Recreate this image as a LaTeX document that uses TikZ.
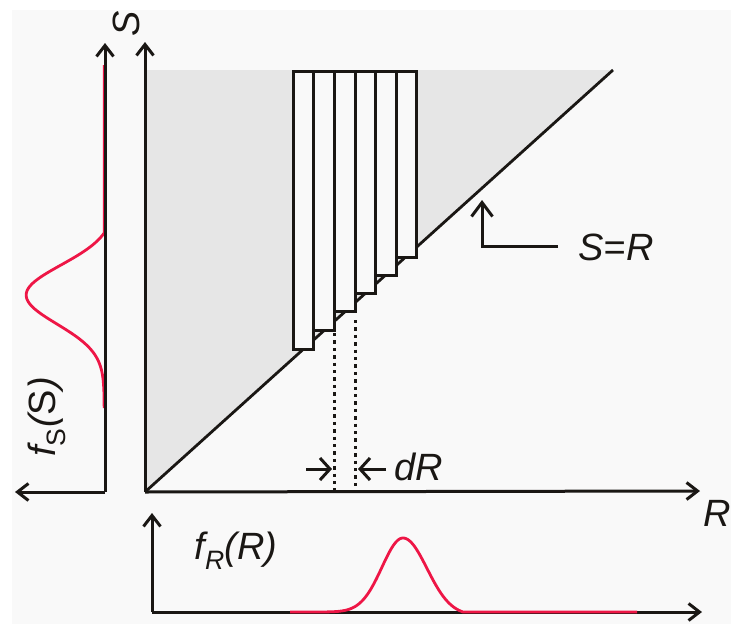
\documentclass[tikz,border=0pt]{standalone}
\usepackage{fontspec}
\setmainfont{Liberation Sans}
\usetikzlibrary{arrows.meta}
\definecolor{ink}{HTML}{1A1714}
\definecolor{panel}{HTML}{F9F9F9}
\definecolor{tri}{HTML}{E6E6E6}
\definecolor{curve}{HTML}{EE1646}
\begin{document}
\begin{tikzpicture}[x=1pt,y=-1pt,
  axis/.style={line width=3pt, draw=ink, -{Straight Barb[length=11pt,width=17pt]}},
  diag/.style={line width=2.8pt, draw=ink},
  colbox/.style={line width=3pt, draw=ink, fill=panel},
  dots/.style={line width=3.4pt, draw=ink, dash pattern=on 3.4pt off 4pt},
  dra/.style={line width=3pt, draw=ink, -{Straight Barb[length=10pt,width=22pt]}},
  sra/.style={line width=3pt, draw=ink, -{Straight Barb[length=14pt,width=21pt]}},
  lab/.style={font=\fontsize{38}{40}\selectfont, inner sep=0pt, text=ink},
  dens/.style={line width=2.8pt, draw=curve, line join=round}
]
\useasboundingbox (0,0) rectangle (731,624);
\fill[white] (0,0) rectangle (731,624);
\fill[panel] (12,10) rectangle (731,624);

% named points
\coordinate (O) at (145,492);
\coordinate (Stip) at (145,42);
\coordinate (Rtip) at (700,491);
\coordinate (Top) at (145,70);
\coordinate (End) at (613,70);
\coordinate (fSO) at (105,492);
\coordinate (fSup) at (105,43);
\coordinate (fSleft) at (15,492);
\coordinate (fRO) at (152,612);
\coordinate (fRup) at (152,513);
\coordinate (fRright) at (702,612);

% safe region
\fill[tri] (O) -- (Top) -- (End) -- cycle;
\draw[diag] (O) -- (End);

% strips
\foreach \i/\b in {0/349,1/330,2/311.5,3/293,4/275,5/257}
  \draw[colbox] ({293.3+20.6*\i},71.5) rectangle ({293.3+20.6*(\i+1)},\b);

% dotted strip
\coordinate (d1a) at (334.4,333);
\coordinate (d1b) at (334.4,492);
\coordinate (d2a) at (355.7,320);
\coordinate (d2b) at (355.7,492);
\draw[dots] (d1a) -- (d1b);
\draw[dots] (d2a) -- (d2b);

% f_S density (under its axis)
\draw[dens] plot[domain=65:408, samples=240, variable=\t]
  ({104.2-78*ifthenelse(\t<295,
      max(0,(exp(-0.5*((\t-295)/30)^2)-0.118)/0.882),
      exp(-0.5*((\t-295)/29)^2))}, \t);

% main axes
\draw[axis] (O) -- (Stip);
\draw[axis] (O) -- (Rtip);

% f_S axes
\draw[axis] (fSO) -- (fSup);
\draw[axis] (fSO) -- (fSleft);

% f_R axes
\draw[axis] (fRO) -- (fRup);
\draw[axis] (fRO) -- (fRright);

% f_R density
\draw[dens] plot[domain=290:637, samples=240, variable=\t]
  (\t, {612-74*ifthenelse(\t<403,
      exp(-0.5*((\t-403)/21)^2),
      max(0,(exp(-0.5*((\t-403)/24)^2)-0.044)/0.956))});

% dR arrows
\coordinate (a1) at (306,469);
\coordinate (a1t) at (332,469);
\coordinate (a2) at (386,469);
\coordinate (a2t) at (358,469);
\draw[dra] (a1) -- (a1t);
\draw[dra] (a2) -- (a2t);
\node[lab, anchor=west] (dR) at (394,467) {\itshape dR};

% S=R pointer
\node[lab] (SR) at (616,247) {\itshape S=R};
\coordinate (p1) at (558,246);
\coordinate (p2) at (482,246);
\coordinate (p3) at (482,200);
\draw[sra] (p1) -- (p2) -- (p3);

% labels
\node[lab, rotate=90] (Slab) at (126,24) {\itshape S};
\node[lab] (Rlab) at (717,513) {\itshape R};
\node[lab, rotate=90] (fSlab) at (47,417) {{\itshape f}\textsubscript{S}{\itshape(}S{\itshape)}};
\node[lab] (fRlab) at (236,551) {\itshape f\textsubscript{R}(R)};
\end{tikzpicture}
\end{document}
